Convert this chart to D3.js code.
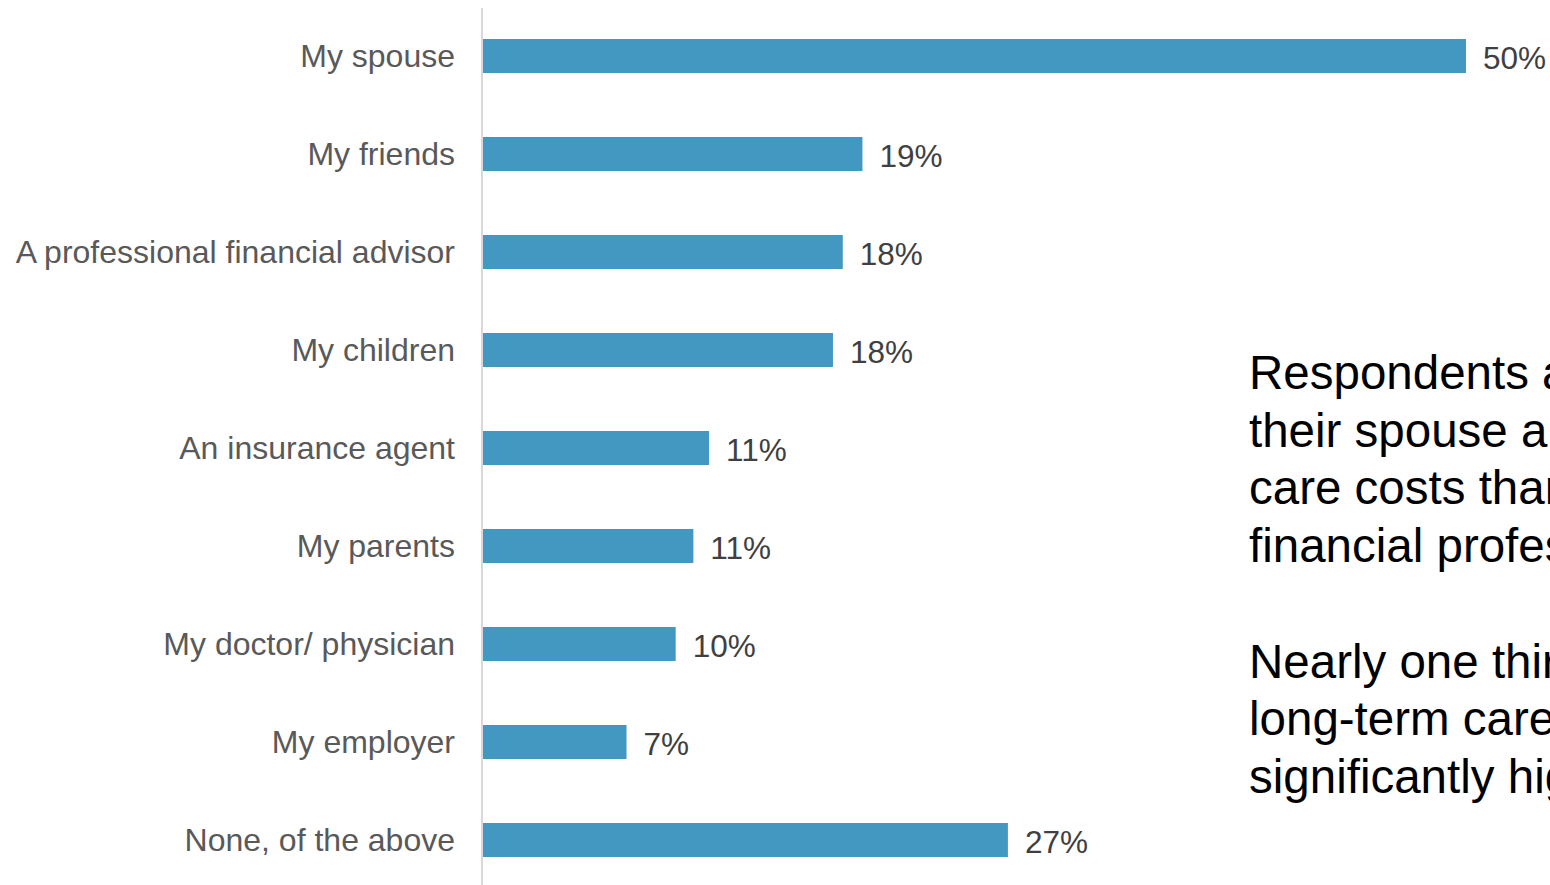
<!DOCTYPE html>
<html><head><meta charset="utf-8">
<script src="https://cdn.jsdelivr.net/npm/d3@7"></script>
<style>html,body{margin:0;padding:0;background:#fff;overflow:hidden}svg{display:block}</style>
</head><body>
<svg id="c" width="1550" height="885"></svg>
<script>
const categories = ["My spouse","My friends","A professional financial advisor","My children","An insurance agent","My parents","My doctor/ physician","My employer","None, of the above"];
const values = [50, 19.3, 18.3, 17.8, 11.5, 10.7, 9.8, 7.3, 26.7];
const valueLabels = ["50%","19%","18%","18%","11%","11%","10%","7%","27%"];
const noteLines = ["Respondents are more likely to talk to","their spouse about long-term","care costs than to a","financial professional.","","Nearly one third have not discussed","long-term care with anyone,","significantly higher than expected."];

const svg = d3.select("#c");
const x0 = 483;
const x = d3.scaleLinear().domain([0, 50]).range([x0, 1466]);
const y = d3.scaleBand().domain(categories).range([7, 889]).paddingInner(0.653).paddingOuter(0.3265);

svg.append("line").attr("x1", 482).attr("x2", 482).attr("y1", 8).attr("y2", 885)
  .attr("stroke", "#d9d9d9").attr("stroke-width", 2);

svg.selectAll("rect.bar").data(categories).join("rect").attr("class","bar")
  .attr("x", x0).attr("y", d => y(d)).attr("height", y.bandwidth())
  .attr("width", (d,i) => x(values[i]) - x0).attr("fill", "#4398c1");

svg.selectAll("text.cat").data(categories).join("text").attr("class","cat")
  .attr("x", 455).attr("y", d => y(d) + y.bandwidth()/2).attr("dy", "0.35em")
  .attr("text-anchor", "end").attr("font-family", "Liberation Sans, Arial, sans-serif")
  .attr("font-size", 32).attr("fill", "#595959").text(d => d);

svg.selectAll("text.val").data(categories).join("text").attr("class","val")
  .attr("x", (d,i) => x(values[i]) + 17).attr("y", d => y(d) + y.bandwidth()/2).attr("dy", "0.4em")
  .attr("font-family", "Liberation Sans, Arial, sans-serif")
  .attr("font-size", 31.5).attr("fill", "#404040").text((d,i) => valueLabels[i]);

const note = svg.append("text").attr("font-family", "Liberation Sans, Arial, sans-serif")
  .attr("font-size", 47.5).attr("fill", "#000");
noteLines.forEach((t, i) => {
  note.append("tspan").attr("x", 1249).attr("y", 389 + i*57.7).text(t);
});
</script>
</body></html>
